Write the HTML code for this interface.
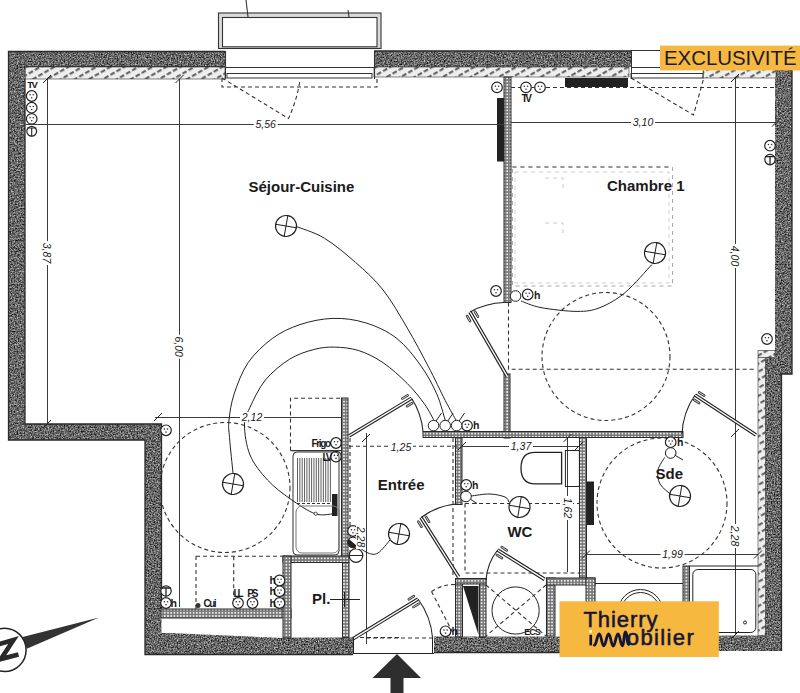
<!DOCTYPE html>
<html><head><meta charset="utf-8"><style>
html,body{margin:0;padding:0;background:#fff;width:800px;height:693px;overflow:hidden}
svg{display:block}
text{font-family:"Liberation Sans",sans-serif;fill:#1a1a1a}
.room{font-weight:bold;font-size:15px}
.big{font-size:15px}
.sm{font-weight:bold;font-size:9px}
.sm2{font-size:9px}
.hh{font-size:10.5px;font-weight:bold}
.dim{font-style:italic;font-size:10.5px}
.nz{font-weight:bold;font-size:18px}
.excl{font-size:21px;fill:#1c1a30}
.logo{font-size:22px;fill:#15153a;stroke:#15153a;stroke-width:0.55}
.wall rect{fill:#5c5c5c}
.hatch rect{fill:url(#hp);stroke:#333;stroke-width:0.6}
.part rect{fill:url(#pp);stroke:#2a2a2a;stroke-width:1}
</style></head><body>
<svg width="800" height="693" viewBox="0 0 800 693">
<defs>
<pattern id="hp" width="7" height="7" patternUnits="userSpaceOnUse" patternTransform="rotate(60)">
<rect width="7" height="7" fill="#eeeeee"/><rect x="0" y="0" width="2.2" height="4.8" fill="#666"/></pattern>
<pattern id="pp" width="3.2" height="3.2" patternUnits="userSpaceOnUse">
<rect width="3.2" height="3.2" fill="#7a7a7a"/><rect x="0.8" y="0.8" width="1.6" height="1.6" fill="#f4f4f4"/></pattern>
<filter id="noise" x="0" y="0" width="100%" height="100%" color-interpolation-filters="sRGB">
<feTurbulence type="fractalNoise" baseFrequency="0.7" numOctaves="2" seed="5" result="t"/>
<feColorMatrix in="t" type="matrix" values="1.15 0 0 0 -0.17  1.15 0 0 0 -0.17  1.15 0 0 0 -0.17  0 0 0 0 1" result="g"/>
<feComposite in="g" in2="SourceGraphic" operator="in"/>
</filter>
</defs>
<rect width="800" height="693" fill="#fff"/>
<g class="wall" filter="url(#noise)">
<rect x="8.5" y="51.5" width="216.5" height="15.5"  />
<rect x="8.5" y="51.5" width="16.5" height="388.5"  />
<rect x="8.5" y="424" width="153.0" height="16"  />
<rect x="145" y="424" width="16.5" height="230.5"  />
<rect x="145" y="633" width="146" height="21.5"  />
<rect x="291" y="637.5" width="62" height="17.0"  />
<rect x="434" y="636.5" width="126" height="16.0"  />
<rect x="560" y="635.5" width="221.5" height="15.5"  />
<rect x="374" y="51" width="257" height="16"  />
<rect x="704" y="51" width="88" height="18"  />
<rect x="775" y="69" width="17" height="305"  />
<rect x="765" y="357" width="27" height="17"  />
<rect x="765" y="374" width="16.5" height="277"  />
</g>
<g fill="none" stroke="#2a2a2a" stroke-width="1.3">
<path d="M225,51.5 H8.5 V440 H145 V654.5 H353 M434,652.5 H560 M781.5,651 V374 H792 V69 M631,51 H374 M25,79 V424 H161.5 V609 M225,67 H25.5"/>
</g>
<polygon points="161,618 283,618 283,638 170,633" fill="#fff"/>
<g class="hatch">
<rect x="25.5" y="67" width="199.5" height="12"  />
<rect x="374" y="67" width="255" height="10"  />
<rect x="703" y="69.5" width="73" height="8.5"  />
<rect x="758" y="350.5" width="17" height="7.0"  />
<rect x="758" y="357.5" width="7.5" height="278.0"  />
</g>
<g class="part">
<rect x="504" y="77" width="7" height="225.5"  />
<rect x="504" y="374" width="6" height="64"  />
<rect x="423" y="431.5" width="260" height="6.0"  />
<rect x="455.5" y="437.5" width="6.5" height="67.0"  />
<rect x="579.5" y="437.5" width="7.0" height="140.5"  />
<rect x="341.5" y="398" width="6.5" height="158"  />
<rect x="283" y="556" width="66" height="6.5"  />
<rect x="161" y="609" width="130" height="9"  />
<rect x="342.5" y="562.5" width="6.5" height="75.0"  />
<rect x="283" y="556" width="8" height="82"  />
<rect x="455.5" y="578.5" width="7.0" height="58.5"  />
<rect x="479.5" y="578.5" width="6.5" height="58.5"  />
<rect x="455.5" y="578.5" width="30.5" height="5.5"  />
<rect x="546.5" y="578" width="8.5" height="58"  />
<rect x="546.5" y="578" width="48.5" height="7"  />
<rect x="586" y="578" width="9" height="58"  />
<rect x="683" y="566" width="6.5" height="69.5"  />
</g>
<g fill="#222">
<rect x="497" y="98" width="7" height="63.5"  />
<rect x="565" y="78" width="63" height="9"  />
<rect x="332" y="494" width="5.5" height="22"  />
<rect x="587" y="481.5" width="7" height="43.5"  />

<polygon points="463,586 478.5,586 478.5,635"/>
</g>
<g fill="none" stroke="#333" stroke-width="1.1">
<path d="M218.5,13 H381 V48.5 H218.5 Z M222.5,17.5 V46.8 H377 V17.5 Z" fill="#dadada" fill-rule="evenodd" stroke="none"/>
<rect x="218.5" y="13" width="162.5" height="35.5"  />
<rect x="222.5" y="17.5" width="154.5" height="29.3"  />
<line x1="225" y1="67.5" x2="374" y2="67.5" stroke-width="1"/>
<line x1="225.5" y1="51" x2="225.5" y2="79" />
<line x1="374.5" y1="51" x2="374.5" y2="79" />
<rect x="227" y="73.5" width="145" height="4.5"  stroke-width="1"/>
<line x1="246" y1="0" x2="248" y2="17" />
<line x1="348" y1="10" x2="349" y2="17" />
</g>
<g fill="#555">
</g>
<g fill="none" stroke="#333" stroke-width="1">
<line x1="631" y1="50.5" x2="660" y2="50.5" />
<line x1="631" y1="67.5" x2="660" y2="67.5" />
<rect x="631" y="73.5" width="72" height="4.5"  />
<line x1="631.5" y1="51" x2="631.5" y2="79" />
</g>
<g fill="none" stroke="#333" stroke-width="1.1" stroke-dasharray="4 3">
<path d="M222,78 V87 H377 V78 M222,78 L288.5,118.5 Q297,100 300,80"/>
<path d="M511,87.5 H776 M631,78 L693.5,115 L703.5,79"/>
<circle cx="606" cy="356.5" r="64"/>
<path d="M508.5,302.5 V369.3 H756"/>
<circle cx="662" cy="503" r="65"/>
<circle cx="225" cy="487.5" r="65"/>
<path d="M349,446.3 H457"/>
<path d="M290.5,450.6 V398.2 H341.5"/>
<path d="M290.5,450.6 H341.5" stroke-dasharray="none"/>
<path d="M350,438 V556 M453,438 V578"/>
<path d="M465,503.5 V573 H579 M465,503.5 H579"/>
<path d="M486,585 L546,636 M546,585 L486,636"/>
<path d="M196,556.3 H283 M233.7,556.3 V600 M196,556 V609"/>
<path d="M366,638 H434 M353,637.5 H400"/>
<path d="M431.5,591.5 Q442,584.5 455,584.5 M431.5,591.5 L454,635"/>
</g>
<g fill="none" stroke="#aaa" stroke-width="1" stroke-dasharray="4 4">
<rect x="512.5" y="167" width="160.0" height="119"  />
<rect x="515" y="172" width="154" height="111"  stroke="#d0d0d0"/>
<path d="M545,178 H563 V188 M545,223 H563 V233" stroke="#ccc"/>
</g>
<path d="M512.5,167 H672.5" fill="none" stroke="#555" stroke-width="1.1" stroke-dasharray="4 4"/>
<g fill="none" stroke="#3a3a3a" stroke-width="1">
<line x1="25.5" y1="124.5" x2="504" y2="124.5" />
<line x1="511" y1="122.5" x2="776" y2="122.5" />
<line x1="47.5" y1="79" x2="47.5" y2="424" />
<line x1="179.5" y1="79" x2="179.5" y2="607" />
<line x1="735.5" y1="77" x2="735.5" y2="433" />
<line x1="155" y1="417.5" x2="341.5" y2="417.5" />
<line x1="462" y1="446.5" x2="579" y2="446.5" />
<line x1="567.5" y1="438" x2="567.5" y2="572" />
<line x1="366.5" y1="433" x2="366.5" y2="644" />
<line x1="586" y1="554.5" x2="758" y2="554.5" />
<line x1="735.5" y1="433" x2="735.5" y2="635" />
</g>
<g stroke="#222" stroke-width="1">
<line x1="43" y1="83" x2="51" y2="75" />
<line x1="43" y1="428" x2="51" y2="420" />
<line x1="175.5" y1="83" x2="183.5" y2="75" />
<line x1="154" y1="421" x2="162" y2="413" />
<line x1="731" y1="82" x2="739" y2="74" />
<line x1="731" y1="437" x2="739" y2="429" />
<line x1="772" y1="126.5" x2="780" y2="118.5" />
<line x1="362" y1="442" x2="370" y2="434" />
<line x1="458" y1="450" x2="466" y2="442" />
<line x1="575" y1="450" x2="583" y2="442" />
<line x1="731" y1="639" x2="739" y2="631" />
<line x1="754" y1="558.5" x2="762" y2="550.5" />
<line x1="582" y1="558.5" x2="590" y2="550.5" />
<line x1="563.5" y1="442" x2="571.5" y2="434" />
</g>
<line x1="349" y1="436" x2="411.6" y2="398.2" stroke="#222" stroke-width="3.6"/>
<line x1="349" y1="436" x2="411.6" y2="398.2" stroke="#fff" stroke-width="1.4"/>
<path d="M411.6,398.2 A73,73 0 0 1 423,431.5" fill="none" stroke="#222" stroke-width="1.1"/>
<line x1="412.2" y1="403.1" x2="407.1" y2="406.2" stroke="#333" stroke-width="2.6" stroke-linecap="round"/>
<line x1="412.2" y1="403.1" x2="407.1" y2="406.2" stroke="#fff" stroke-width="0.8" stroke-linecap="round"/>
<line x1="407.6" y1="395.4" x2="402.4" y2="398.5" stroke="#333" stroke-width="2.6" stroke-linecap="round"/>
<line x1="407.6" y1="395.4" x2="402.4" y2="398.5" stroke="#fff" stroke-width="0.8" stroke-linecap="round"/>
<line x1="507" y1="376" x2="470" y2="312" stroke="#222" stroke-width="3.6"/>
<line x1="507" y1="376" x2="470" y2="312" stroke="#fff" stroke-width="1.4"/>
<path d="M470,312 A74,74 0 0 1 504,302.5" fill="none" stroke="#222" stroke-width="1.1"/>
<line x1="474.9" y1="311.5" x2="477.9" y2="316.7" stroke="#333" stroke-width="2.6" stroke-linecap="round"/>
<line x1="474.9" y1="311.5" x2="477.9" y2="316.7" stroke="#fff" stroke-width="0.8" stroke-linecap="round"/>
<line x1="467.1" y1="316.0" x2="470.1" y2="321.2" stroke="#333" stroke-width="2.6" stroke-linecap="round"/>
<line x1="467.1" y1="316.0" x2="470.1" y2="321.2" stroke="#fff" stroke-width="0.8" stroke-linecap="round"/>
<line x1="756" y1="435" x2="695" y2="395" stroke="#222" stroke-width="3.6"/>
<line x1="756" y1="435" x2="695" y2="395" stroke="#fff" stroke-width="1.4"/>
<path d="M695,395 A74,74 0 0 0 682,434" fill="none" stroke="#222" stroke-width="1.1"/>
<line x1="699.1" y1="392.3" x2="704.2" y2="395.6" stroke="#333" stroke-width="2.6" stroke-linecap="round"/>
<line x1="699.1" y1="392.3" x2="704.2" y2="395.6" stroke="#fff" stroke-width="0.8" stroke-linecap="round"/>
<line x1="694.2" y1="399.9" x2="699.2" y2="403.1" stroke="#333" stroke-width="2.6" stroke-linecap="round"/>
<line x1="694.2" y1="399.9" x2="699.2" y2="403.1" stroke="#fff" stroke-width="0.8" stroke-linecap="round"/>
<line x1="458.6" y1="577" x2="421" y2="517.5" stroke="#222" stroke-width="3.6"/>
<line x1="458.6" y1="577" x2="421" y2="517.5" stroke="#fff" stroke-width="1.4"/>
<path d="M421,517.5 A70,70 0 0 1 457,504" fill="none" stroke="#222" stroke-width="1.1"/>
<line x1="425.9" y1="516.8" x2="429.1" y2="521.9" stroke="#333" stroke-width="2.6" stroke-linecap="round"/>
<line x1="425.9" y1="516.8" x2="429.1" y2="521.9" stroke="#fff" stroke-width="0.8" stroke-linecap="round"/>
<line x1="418.3" y1="521.6" x2="421.5" y2="526.7" stroke="#333" stroke-width="2.6" stroke-linecap="round"/>
<line x1="418.3" y1="521.6" x2="421.5" y2="526.7" stroke="#fff" stroke-width="0.8" stroke-linecap="round"/>
<line x1="544.7" y1="579.4" x2="497.6" y2="550" stroke="#222" stroke-width="3.6"/>
<line x1="544.7" y1="579.4" x2="497.6" y2="550" stroke="#fff" stroke-width="1.4"/>
<path d="M497.6,550 A55,55 0 0 0 486,580" fill="none" stroke="#222" stroke-width="1.1"/>
<line x1="501.7" y1="547.2" x2="506.8" y2="550.4" stroke="#333" stroke-width="2.6" stroke-linecap="round"/>
<line x1="501.7" y1="547.2" x2="506.8" y2="550.4" stroke="#fff" stroke-width="0.8" stroke-linecap="round"/>
<line x1="496.9" y1="554.9" x2="502.0" y2="558.1" stroke="#333" stroke-width="2.6" stroke-linecap="round"/>
<line x1="496.9" y1="554.9" x2="502.0" y2="558.1" stroke="#fff" stroke-width="0.8" stroke-linecap="round"/>
<line x1="353" y1="638.8" x2="418" y2="599" stroke="#222" stroke-width="3.6"/>
<line x1="353" y1="638.8" x2="418" y2="599" stroke="#fff" stroke-width="1.4"/>
<path d="M418,599 A76,76 0 0 1 432.6,638" fill="none" stroke="#222" stroke-width="1.1"/>
<line x1="418.6" y1="603.9" x2="413.5" y2="607.0" stroke="#333" stroke-width="2.6" stroke-linecap="round"/>
<line x1="418.6" y1="603.9" x2="413.5" y2="607.0" stroke="#fff" stroke-width="0.8" stroke-linecap="round"/>
<line x1="413.9" y1="596.2" x2="408.8" y2="599.3" stroke="#333" stroke-width="2.6" stroke-linecap="round"/>
<line x1="413.9" y1="596.2" x2="408.8" y2="599.3" stroke="#fff" stroke-width="0.8" stroke-linecap="round"/>
<g fill="none" stroke="#222" stroke-width="1">
<path d="M233,473 C232.4,467.1 230.2,446.3 229.5,437.5 C228.8,428.7 228.2,427.3 229,420 C229.8,412.7 231.0,403.4 234.2,393.8 C237.4,384.2 241.8,371.9 248.1,362.7 C254.4,353.5 263.7,344.9 272.3,338.5 C280.9,332.1 289.9,328.0 300,324.6 C310.1,321.2 321.9,318.7 332.9,318.4 C343.9,318.1 355.1,319.5 365.8,322.9 C376.5,326.2 387.7,331.3 396.9,338.5 C406.1,345.7 414.5,356.9 421.1,366.1 C427.7,375.3 432.6,384.7 436.7,393.8 C440.8,402.9 443.9,416.5 445.4,421"/>
<path d="M332,514 C329.2,514.0 322.0,516.2 315,513.7 C308.0,511.2 297.9,504.3 290,498.7 C282.1,493.1 274.2,487.3 267.5,480 C260.8,472.7 253.8,464.2 250,455 C246.2,445.8 244.5,432.9 244.5,425 C244.5,417.1 246.3,415.2 249.8,407.7 C253.3,400.2 258.8,388.1 265.4,380 C272.0,371.9 281.5,364.3 289.6,359.2 C297.7,354.1 306.3,351.5 313.8,349.5 C321.3,347.5 327.1,346.9 334.6,347.1 C342.1,347.3 350.7,348.0 358.8,350.6 C366.9,353.2 375.0,357.2 383.1,362.7 C391.2,368.2 400.4,376.6 407.3,383.5 C414.2,390.4 420.1,397.9 424.6,404.2 C429.1,410.4 432.7,418.2 434.3,421"/>
<path d="M294.8,226 C299.7,228.0 314.1,232.0 324.2,238.1 C334.3,244.2 345.6,253.7 355.4,262.3 C365.2,270.9 374.5,279.0 383.1,290 C391.8,301.0 399.8,315.4 407.3,328.1 C414.8,340.8 421.8,354.0 428.1,366.1 C434.5,378.2 440.7,391.7 445.4,400.8 C450.1,409.9 454.6,417.6 456.5,421"/>
<circle cx="315.7" cy="513.7" r="1.6" fill="#fff" stroke="#222" stroke-width="0.8"/>
<path d="M521,301 C524.3,302.1 531.7,305.9 541,307.6 C550.3,309.3 567.2,311.4 577,311.4 C586.8,311.4 592.0,310.8 600,307.6 C608.0,304.4 616.7,299.6 625.3,292.4 C633.9,285.2 647.4,269.2 651.8,264.6"/>
</g>
<g transform="translate(286,226) rotate(10)"><circle r="10.5" fill="#fff" stroke="#222" stroke-width="1.2"/><path d="M-10.5,0 H10.5 M0,-10.5 V10.5" stroke="#222" stroke-width="1"/></g>
<g transform="translate(655,253) rotate(10)"><circle r="10.5" fill="#fff" stroke="#222" stroke-width="1.2"/><path d="M-10.5,0 H10.5 M0,-10.5 V10.5" stroke="#222" stroke-width="1"/></g>
<g transform="translate(233,484) rotate(10)"><circle r="10.5" fill="#fff" stroke="#222" stroke-width="1.2"/><path d="M-10.5,0 H10.5 M0,-10.5 V10.5" stroke="#222" stroke-width="1"/></g>
<g transform="translate(399,534) rotate(10)"><circle r="10.5" fill="#fff" stroke="#222" stroke-width="1.2"/><path d="M-10.5,0 H10.5 M0,-10.5 V10.5" stroke="#222" stroke-width="1"/></g>
<g transform="translate(519.5,507) rotate(10)"><circle r="10.5" fill="#fff" stroke="#222" stroke-width="1.2"/><path d="M-10.5,0 H10.5 M0,-10.5 V10.5" stroke="#222" stroke-width="1"/></g>
<g transform="translate(680,496) rotate(10)"><circle r="10.5" fill="#fff" stroke="#222" stroke-width="1.2"/><path d="M-10.5,0 H10.5 M0,-10.5 V10.5" stroke="#222" stroke-width="1"/></g>
<g transform="translate(31.7,96)"><circle r="5.3" fill="#fff" stroke="#222" stroke-width="1.2"/><circle cx="-1.6" cy="-1.2" r="0.8" fill="#333"/><circle cx="1.6" cy="-1.2" r="0.8" fill="#333"/><circle cx="0" cy="1.8" r="0.8" fill="#333"/></g>
<g transform="translate(31.7,107.7)"><circle r="5.3" fill="#fff" stroke="#222" stroke-width="1.2"/><circle cx="-1.6" cy="-1.2" r="0.8" fill="#333"/><circle cx="1.6" cy="-1.2" r="0.8" fill="#333"/><circle cx="0" cy="1.8" r="0.8" fill="#333"/></g>
<g transform="translate(31.7,118.9)"><circle r="5.3" fill="#fff" stroke="#222" stroke-width="1.2"/><circle cx="-1.6" cy="-1.2" r="0.8" fill="#333"/><circle cx="1.6" cy="-1.2" r="0.8" fill="#333"/><circle cx="0" cy="1.8" r="0.8" fill="#333"/></g>
<g transform="translate(497,87.4)"><circle r="5.3" fill="#fff" stroke="#222" stroke-width="1.2"/><circle cx="-1.6" cy="-1.2" r="0.8" fill="#333"/><circle cx="1.6" cy="-1.2" r="0.8" fill="#333"/><circle cx="0" cy="1.8" r="0.8" fill="#333"/></g>
<g transform="translate(526,87.4)"><circle r="5.3" fill="#fff" stroke="#222" stroke-width="1.2"/><circle cx="-1.6" cy="-1.2" r="0.8" fill="#333"/><circle cx="1.6" cy="-1.2" r="0.8" fill="#333"/><circle cx="0" cy="1.8" r="0.8" fill="#333"/></g>
<g transform="translate(540,87.4)"><circle r="5.3" fill="#fff" stroke="#222" stroke-width="1.2"/><circle cx="-1.6" cy="-1.2" r="0.8" fill="#333"/><circle cx="1.6" cy="-1.2" r="0.8" fill="#333"/><circle cx="0" cy="1.8" r="0.8" fill="#333"/></g>
<g transform="translate(770,145.7)"><circle r="5.3" fill="#fff" stroke="#222" stroke-width="1.2"/><circle cx="-1.6" cy="-1.2" r="0.8" fill="#333"/><circle cx="1.6" cy="-1.2" r="0.8" fill="#333"/><circle cx="0" cy="1.8" r="0.8" fill="#333"/></g>
<g transform="translate(767,339)"><circle r="5.3" fill="#fff" stroke="#222" stroke-width="1.2"/><circle cx="-1.6" cy="-1.2" r="0.8" fill="#333"/><circle cx="1.6" cy="-1.2" r="0.8" fill="#333"/><circle cx="0" cy="1.8" r="0.8" fill="#333"/></g>
<g transform="translate(496,291)"><circle r="5.3" fill="#fff" stroke="#222" stroke-width="1.2"/><circle cx="-1.6" cy="-1.2" r="0.8" fill="#333"/><circle cx="1.6" cy="-1.2" r="0.8" fill="#333"/><circle cx="0" cy="1.8" r="0.8" fill="#333"/></g>
<g transform="translate(527.7,294.5)"><circle r="5.3" fill="#fff" stroke="#222" stroke-width="1.2"/><circle cx="-1.6" cy="-1.2" r="0.8" fill="#333"/><circle cx="1.6" cy="-1.2" r="0.8" fill="#333"/><circle cx="0" cy="1.8" r="0.8" fill="#333"/></g>
<g transform="translate(166,430.3)"><circle r="5.3" fill="#fff" stroke="#222" stroke-width="1.2"/><circle cx="-1.6" cy="-1.2" r="0.8" fill="#333"/><circle cx="1.6" cy="-1.2" r="0.8" fill="#333"/><circle cx="0" cy="1.8" r="0.8" fill="#333"/></g>
<g transform="translate(336,443)"><circle r="5.3" fill="#fff" stroke="#222" stroke-width="1.2"/><circle cx="-1.6" cy="-1.2" r="0.8" fill="#333"/><circle cx="1.6" cy="-1.2" r="0.8" fill="#333"/><circle cx="0" cy="1.8" r="0.8" fill="#333"/></g>
<g transform="translate(336,456.6)"><circle r="5.3" fill="#fff" stroke="#222" stroke-width="1.2"/><circle cx="-1.6" cy="-1.2" r="0.8" fill="#333"/><circle cx="1.6" cy="-1.2" r="0.8" fill="#333"/><circle cx="0" cy="1.8" r="0.8" fill="#333"/></g>
<g transform="translate(467,425.6)"><circle r="5.3" fill="#fff" stroke="#222" stroke-width="1.2"/><circle cx="-1.6" cy="-1.2" r="0.8" fill="#333"/><circle cx="1.6" cy="-1.2" r="0.8" fill="#333"/><circle cx="0" cy="1.8" r="0.8" fill="#333"/></g>
<g transform="translate(466.2,485)"><circle r="5.3" fill="#fff" stroke="#222" stroke-width="1.2"/><circle cx="-1.6" cy="-1.2" r="0.8" fill="#333"/><circle cx="1.6" cy="-1.2" r="0.8" fill="#333"/><circle cx="0" cy="1.8" r="0.8" fill="#333"/></g>
<g transform="translate(670.7,442.2)"><circle r="5.3" fill="#fff" stroke="#222" stroke-width="1.2"/><circle cx="-1.6" cy="-1.2" r="0.8" fill="#333"/><circle cx="1.6" cy="-1.2" r="0.8" fill="#333"/><circle cx="0" cy="1.8" r="0.8" fill="#333"/></g>
<g transform="translate(166,603)"><circle r="5.3" fill="#fff" stroke="#222" stroke-width="1.2"/><circle cx="-1.6" cy="-1.2" r="0.8" fill="#333"/><circle cx="1.6" cy="-1.2" r="0.8" fill="#333"/><circle cx="0" cy="1.8" r="0.8" fill="#333"/></g>
<g transform="translate(238,603)"><circle r="5.3" fill="#fff" stroke="#222" stroke-width="1.2"/><circle cx="-1.6" cy="-1.2" r="0.8" fill="#333"/><circle cx="1.6" cy="-1.2" r="0.8" fill="#333"/><circle cx="0" cy="1.8" r="0.8" fill="#333"/></g>
<g transform="translate(252.5,603)"><circle r="5.3" fill="#fff" stroke="#222" stroke-width="1.2"/><circle cx="-1.6" cy="-1.2" r="0.8" fill="#333"/><circle cx="1.6" cy="-1.2" r="0.8" fill="#333"/><circle cx="0" cy="1.8" r="0.8" fill="#333"/></g>
<g transform="translate(279.5,580.5)"><circle r="5.3" fill="#fff" stroke="#222" stroke-width="1.2"/><circle cx="-1.6" cy="-1.2" r="0.8" fill="#333"/><circle cx="1.6" cy="-1.2" r="0.8" fill="#333"/><circle cx="0" cy="1.8" r="0.8" fill="#333"/></g>
<g transform="translate(279.5,591.3)"><circle r="5.3" fill="#fff" stroke="#222" stroke-width="1.2"/><circle cx="-1.6" cy="-1.2" r="0.8" fill="#333"/><circle cx="1.6" cy="-1.2" r="0.8" fill="#333"/><circle cx="0" cy="1.8" r="0.8" fill="#333"/></g>
<g transform="translate(279.5,603)"><circle r="5.3" fill="#fff" stroke="#222" stroke-width="1.2"/><circle cx="-1.6" cy="-1.2" r="0.8" fill="#333"/><circle cx="1.6" cy="-1.2" r="0.8" fill="#333"/><circle cx="0" cy="1.8" r="0.8" fill="#333"/></g>
<g transform="translate(353,531)"><circle r="5.3" fill="#fff" stroke="#222" stroke-width="1.2"/><circle cx="-1.6" cy="-1.2" r="0.8" fill="#333"/><circle cx="1.6" cy="-1.2" r="0.8" fill="#333"/><circle cx="0" cy="1.8" r="0.8" fill="#333"/></g>
<g transform="translate(445.5,631.3)"><circle r="5.3" fill="#fff" stroke="#222" stroke-width="1.2"/><circle cx="-1.6" cy="-1.2" r="0.8" fill="#333"/><circle cx="1.6" cy="-1.2" r="0.8" fill="#333"/><circle cx="0" cy="1.8" r="0.8" fill="#333"/></g>
<circle cx="433.5" cy="425.6" r="5.3" fill="#fff" stroke="#222" stroke-width="1"/>
<circle cx="445.2" cy="425.6" r="5.3" fill="#fff" stroke="#222" stroke-width="1"/>
<circle cx="456.6" cy="425.6" r="5.3" fill="#fff" stroke="#222" stroke-width="1"/>
<circle cx="515.6" cy="296" r="5.3" fill="#fff" stroke="#222" stroke-width="1"/>
<circle cx="466" cy="496.5" r="5.3" fill="#fff" stroke="#222" stroke-width="1"/>
<circle cx="670.7" cy="453" r="5.3" fill="#fff" stroke="#222" stroke-width="1"/>
<circle cx="353" cy="542.5" r="5.3" fill="#fff" stroke="#222"/><path d="M349,539 A5.3,5.3 0 0 0 357,546 Z" fill="#222"/>
<circle cx="356" cy="555.5" r="6.8" fill="#fff" stroke="#222" stroke-width="1.2"/><path d="M349.2,555.5 H362.8" stroke="#222"/>
<circle cx="770" cy="159.6" r="5.2" fill="#fff" stroke="#222" stroke-width="1.2"/><path d="M765.2,156.6 H774.8 M770,156.6 V164.8" stroke="#222" stroke-width="1.3"/>
<circle cx="198" cy="605.5" r="2.5" fill="#333"/>
<circle cx="166" cy="591" r="5.2" fill="#fff" stroke="#222" stroke-width="1.2"/><path d="M161.2,588 H170.8 M166,588 V596.2" stroke="#222" stroke-width="1.3"/>
<circle cx="31.7" cy="131.3" r="4.9" fill="#fff" stroke="#222" stroke-width="1.2"/><path d="M27,128 H36.4 M31.7,128 V136.2" stroke="#222" stroke-width="1.1"/>
<circle cx="515.6" cy="610.5" r="23.6" fill="none" stroke="#222" stroke-width="1"/>
<path d="M561.6,452.3 H535 Q521,452.3 521,468 Q521,483.8 535,483.8 H561.6 Z" fill="#fff" stroke="#222" stroke-width="1.3"/>
<rect x="565.4" y="450.5" width="14" height="36" fill="none" stroke="#222" stroke-width="1"/>
<rect x="692.8" y="569.5" width="63" height="63" rx="5" fill="none" stroke="#222" stroke-width="1"/>
<path d="M689.5,566 H758" stroke="#222"/>
<circle cx="745" cy="622.5" r="1.5" fill="none" stroke="#222"/>
<g fill="none" stroke="#333" stroke-width="1">
<rect x="293" y="452" width="46" height="103" rx="4"/>
<rect x="296" y="506" width="43" height="47" rx="6" stroke="#777"/>
<line x1="297.50" y1="458" x2="297.50" y2="502" stroke-width="0.8"/>
<line x1="299.85" y1="458" x2="299.85" y2="502" stroke-width="0.8"/>
<line x1="302.20" y1="458" x2="302.20" y2="502" stroke-width="0.8"/>
<line x1="304.55" y1="458" x2="304.55" y2="502" stroke-width="0.8"/>
<line x1="306.90" y1="458" x2="306.90" y2="502" stroke-width="0.8"/>
<line x1="309.25" y1="458" x2="309.25" y2="502" stroke-width="0.8"/>
<line x1="311.60" y1="458" x2="311.60" y2="502" stroke-width="0.8"/>
<line x1="313.95" y1="458" x2="313.95" y2="502" stroke-width="0.8"/>
<line x1="316.30" y1="458" x2="316.30" y2="502" stroke-width="0.8"/>
<line x1="318.65" y1="458" x2="318.65" y2="502" stroke-width="0.8"/>
<line x1="321.00" y1="458" x2="321.00" y2="502" stroke-width="0.8"/>
<line x1="323.35" y1="458" x2="323.35" y2="502" stroke-width="0.8"/>
<line x1="325.70" y1="458" x2="325.70" y2="502" stroke-width="0.8"/>
<line x1="328.05" y1="458" x2="328.05" y2="502" stroke-width="0.8"/>
<line x1="330.40" y1="458" x2="330.40" y2="502" stroke-width="0.8"/>
<path d="M297,503.5 H332" stroke-dasharray="3 2"/>
</g>
<g stroke="#222" stroke-width="1" fill="none">
<line x1="595" y1="583.5" x2="683" y2="583.5" />
<path d="M618,612 A22.5,22.5 0 0 1 663,612"/>
<path d="M621,612 A19.5,19.5 0 0 1 660,612"/>
<line x1="330" y1="599.5" x2="360" y2="599.5" />
<line x1="344.5" y1="592" x2="344.5" y2="607" />
<line x1="432.5" y1="637" x2="432.5" y2="653" />
<line x1="353" y1="653.5" x2="434" y2="653.5" />
<line x1="436.0" y1="421" x2="441.5" y2="413" />
<line x1="447.7" y1="421" x2="453.2" y2="413" />
<line x1="459.1" y1="421" x2="464.6" y2="413" />
<line x1="674.6" y1="455" x2="683" y2="460" />
<line x1="470" y1="499" x2="477" y2="503.5" />
<line x1="353.5" y1="637.5" x2="353.5" y2="653" />
<path d="M664.6,457.5 C663.5,459.6 658.8,465.6 658,470 C657.2,474.4 657.8,479.9 660,484 C662.2,488.1 669.3,492.9 671.2,494.7"/>
<path d="M471,496 C474.2,495.7 484.3,493.8 490,494 C495.7,494.2 501.8,495.7 505,497 C508.2,498.3 508.3,501.2 509,502"/>
<path d="M356,545 C358.0,546.3 364.3,551.7 368,553 C371.7,554.3 374.3,555.2 378,553 C381.7,550.8 388.0,542.2 390,540"/>
</g>
<text x="248.5" y="192.2" class="room" >Séjour-Cuisine</text>
<text x="607" y="191" class="room" >Chambre 1</text>
<text x="377.8" y="490.4" class="room" >Entrée</text>
<text x="507.4" y="536.5" class="room" >WC</text>
<text x="655.6" y="479.3" class="room" >Sde</text>
<text x="312" y="604" class="room big" >Pl.</text>
<text x="203.5" y="606.5" class="sm"  style="font-size:10px" textLength="13">Cui</text>
<text x="233.5" y="596.5" class="sm"  style="font-size:10px" textLength="10">LL</text>
<text x="247.3" y="596.5" class="sm"  style="font-size:10px" textLength="11">PS</text>
<text x="27.3" y="88.3" class="sm"  style="font-size:9.5px" textLength="10.5">TV</text>
<text x="521.5" y="101.5" class="sm"  style="font-size:10px" textLength="10.5">TV</text>
<text x="311.6" y="446.5" class="sm"  textLength="19.4" style="font-size:10px">Frigo</text>
<text x="322.5" y="460.5" class="sm"  textLength="10" style="font-size:10px">LV</text>
<text x="524.3" y="634.5" class="sm"  textLength="16.5">ECS</text>
<text x="534" y="299" class="hh" >h</text>
<text x="170.5" y="606.5" class="hh" >h</text>
<text x="473" y="429" class="hh" >h</text>
<text x="472" y="488.5" class="hh" >h</text>
<text x="677" y="445.5" class="hh" >h</text>
<text x="451.5" y="634.5" class="hh" >h</text>
<text x="269.5" y="584" class="hh" >h</text>
<text x="269.5" y="595" class="hh" >h</text>
<text x="269.5" y="606.5" class="hh" >h</text>
<g transform="translate(265.7,124) rotate(0)"><rect x="-12" y="-5" width="24" height="10" fill="#fff"/><text x="0" y="3.8" class="dim" text-anchor="middle">5,56</text></g>
<g transform="translate(643,122.5) rotate(0)"><rect x="-12" y="-5" width="24" height="10" fill="#fff"/><text x="0" y="3.8" class="dim" text-anchor="middle">3,10</text></g>
<g transform="translate(46.5,253) rotate(90)"><rect x="-12" y="-5" width="24" height="10" fill="#fff"/><text x="0" y="3.8" class="dim" text-anchor="middle">3,87</text></g>
<g transform="translate(179,346.7) rotate(90)"><rect x="-12" y="-5" width="24" height="10" fill="#fff"/><text x="0" y="3.8" class="dim" text-anchor="middle">6,00</text></g>
<g transform="translate(735,256) rotate(90)"><rect x="-12" y="-5" width="24" height="10" fill="#fff"/><text x="0" y="3.8" class="dim" text-anchor="middle">4,00</text></g>
<g transform="translate(252,417) rotate(0)"><rect x="-12" y="-5" width="24" height="10" fill="#fff"/><text x="0" y="3.8" class="dim" text-anchor="middle">2,12</text></g>
<g transform="translate(401,447) rotate(0)"><rect x="-12" y="-5" width="24" height="10" fill="#fff"/><text x="0" y="3.8" class="dim" text-anchor="middle">1,25</text></g>
<g transform="translate(521,446.5) rotate(0)"><rect x="-12" y="-5" width="24" height="10" fill="#fff"/><text x="0" y="3.8" class="dim" text-anchor="middle">1,37</text></g>
<g transform="translate(568,508) rotate(90)"><rect x="-12" y="-5" width="24" height="10" fill="#fff"/><text x="0" y="3.8" class="dim" text-anchor="middle">1,62</text></g>
<g transform="translate(361,537) rotate(90)"><rect x="-12" y="-5" width="24" height="10" fill="#fff"/><text x="0" y="3.8" class="dim" text-anchor="middle">2,28</text></g>
<g transform="translate(672.5,554.5) rotate(0)"><rect x="-12" y="-5" width="24" height="10" fill="#fff"/><text x="0" y="3.8" class="dim" text-anchor="middle">1,99</text></g>
<g transform="translate(735,536) rotate(90)"><rect x="-12" y="-5" width="24" height="10" fill="#fff"/><text x="0" y="3.8" class="dim" text-anchor="middle">2,28</text></g>
<polygon points="22.7,637.1 99,617.6 26.8,648.8" fill="#333"/>
<circle cx="4.5" cy="649.9" r="21.6" fill="#fff" stroke="#222" stroke-width="1.5"/>
<path d="M-2,644.5 L13.5,640 L1,659 L18.5,654.5" fill="none" stroke="#2a2a2a" stroke-width="4.6" stroke-linejoin="miter"/>
<polygon points="397,654 421,678 403.5,678 403.5,693 390.5,693 390.5,678 372.5,678" fill="#2e2e2e"/>
<rect x="660" y="45.6" width="140" height="24.8" fill="#F6B83E"/>
<text x="664" y="65" class="excl" textLength="132.5" lengthAdjust="spacingAndGlyphs">EXCLUSIVITÉ</text>
<rect x="559.5" y="601.3" width="159.3" height="55.7" fill="#F6B83E"/>
<text x="583.4" y="626.6" class="logo" textLength="74.2" lengthAdjust="spacing">Thierry</text>
<rect x="589.4" y="634.8" width="2.7" height="10.6" fill="#15153a"/>
<rect x="589.3" y="630.1" width="2.6" height="2.6" fill="#fff"/>
<path d="M594.4,645.2 C596.5,645.2 597.1,634 599.2,634 C601.3000000000001,634 601.6999999999999,645.8 603.8,645.8 C605.9,645.8 606.5,634 608.6,634 C610.7,634 611.1,646 613.2,646 C615.3000000000001,646 615.9,633.8 618,633.8 C620.1,633.8 620.3,645.8 622.4,645.8 C624.5,645.8 623.4,632 625.5,632 C627.6,632 626.5,644.5 628.6,644.5" fill="none" stroke="#15153a" stroke-width="2.8" stroke-linecap="round"/>
<text x="626.8" y="645.2" class="logo" textLength="67" lengthAdjust="spacing">obilier</text>
</svg></body></html>
